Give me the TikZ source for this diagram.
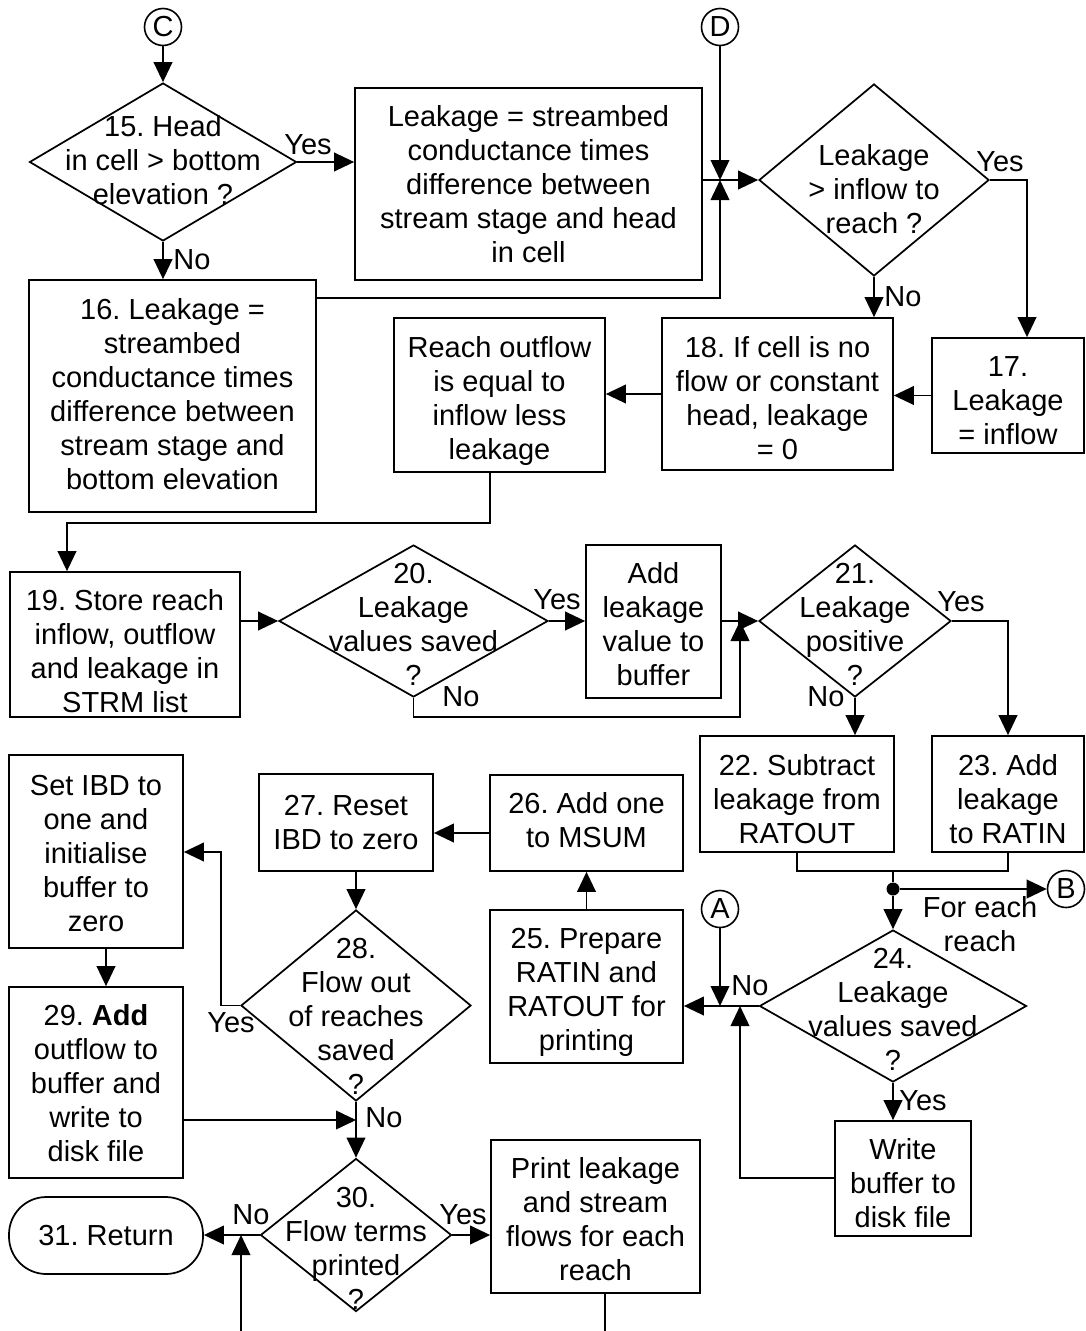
\documentclass[tikz,border=0pt]{standalone}
\usepackage{fontspec}
\setmainfont{Liberation Sans}
\usetikzlibrary{shapes.geometric,arrows.meta}
\newcommand\pxu{0.75pt}
\tikzset{
  every node/.style={font=\fontsize{21.75}{25.5}\selectfont\frenchspacing, inner sep=0pt},
  box/.style={draw, line width=1.3pt},
  dia/.style={draw, diamond, line width=1.3pt},
  txt/.style={align=center},
  lbl/.style={align=center},
  conn/.style={draw, circle, line width=1.2pt, minimum size=37*\pxu},
  dot/.style={circle, fill=black, minimum size=13*\pxu},
  ln/.style={line width=1.3pt},
  arr/.style={line width=1.3pt, -{Triangle[length=15pt,width=14pt]}}
}
\begin{document}
\begin{tikzpicture}[x=0.75pt,y=-0.75pt]
\path[use as bounding box, fill=white] (0,0) rectangle (1085,1331);

% ---------- row 1 ----------
\node[conn] (C) at (163,27) {C};
\node[dia, minimum width=267*\pxu, minimum height=158*\pxu] (d15) at (163,162) {};
\node[txt] (t15) at (163,164) {\strut 15. Head\\in cell > bottom\\elevation ?\strut};
\node[box, minimum width=347*\pxu, minimum height=192*\pxu] (b1) at (528.5,184) {};
\node[txt] (t1) at (528.5,188)
  {\strut Leakage = streambed\\conductance times\\difference between\\stream stage and head\\in cell\strut};
\node[conn] (D) at (720,27) {D};
\node[dia, minimum width=230*\pxu, minimum height=192*\pxu] (dL) at (874,180) {};
\node[txt] (tL) at (874,193) {\strut Leakage\\> inflow to\\reach ?\strut};

% ---------- row 2 ----------
\node[box, minimum width=287*\pxu, minimum height=232*\pxu] (b16) at (172.5,396) {};
\node[txt] (t16) at (172.5,398)
  {\strut 16. Leakage =\\streambed\\conductance times\\difference between\\stream stage and\\bottom elevation\strut};
\node[box, minimum width=211*\pxu, minimum height=154*\pxu] (bR) at (499.5,395) {};
\node[txt] (tR) at (499.5,402)
  {\strut Reach outflow\\is equal to\\inflow less\\leakage\strut};
\node[box, minimum width=231*\pxu, minimum height=152*\pxu] (b18) at (777.5,394) {};
\node[txt] (t18) at (777.5,402)
  {\strut 18. If cell is no\\flow or constant\\head, leakage\\= 0\strut};
\node[box, minimum width=152*\pxu, minimum height=115*\pxu] (b17) at (1008,395.5) {};
\node[txt] (t17) at (1008,404)
  {\strut 17.\\Leakage\\= inflow\strut};

% ---------- row 3 ----------
\node[box, minimum width=230*\pxu, minimum height=145*\pxu] (b19) at (125,644.5) {};
\node[txt] (t19) at (125,655)
  {\strut 19. Store reach\\inflow, outflow\\and leakage in\\STRM list\strut};
\node[dia, minimum width=269*\pxu, minimum height=152*\pxu] (d20) at (413.5,621) {};
\node[txt] (t20) at (413.5,628) {\strut 20.\\Leakage\\values saved\\?\strut};
\node[box, minimum width=135*\pxu, minimum height=153*\pxu] (bAdd) at (653.5,621.5) {};
\node[txt] (tAdd) at (653.5,628)
  {\strut Add\\leakage\\value to\\buffer\strut};
\node[dia, minimum width=192*\pxu, minimum height=152*\pxu] (d21) at (855,621) {};
\node[txt] (t21) at (855,628) {\strut 21.\\Leakage\\positive\\?\strut};
\node[box, minimum width=194*\pxu, minimum height=116*\pxu] (b22) at (797,794) {};
\node[txt] (t22) at (797,803)
  {\strut 22. Subtract\\leakage from\\RATOUT\strut};
\node[box, minimum width=152*\pxu, minimum height=116*\pxu] (b23) at (1008,794) {};
\node[txt] (t23) at (1008,803)
  {\strut 23. Add\\leakage\\to RATIN\strut};

% ---------- row 4 ----------
\node[box, minimum width=174*\pxu, minimum height=193*\pxu] (bSet) at (96,851.5) {};
\node[txt] (tSet) at (96,857)
  {\strut Set IBD to\\one and\\initialise\\buffer to\\zero\strut};
\node[box, minimum width=174*\pxu, minimum height=97*\pxu] (b27) at (346,822.5) {};
\node[txt] (t27) at (346,826)
  {\strut 27. Reset\\IBD to zero\strut};
\node[box, minimum width=193*\pxu, minimum height=96*\pxu] (b26) at (586.5,823) {};
\node[txt] (t26) at (586.5,824)
  {\strut 26. Add one\\to MSUM\strut};
\node[conn] (A) at (720,909) {A};
\node[conn] (B) at (1066,889) {B};
\node[dot] (dot) at (893,889) {};
\node[box, minimum width=193*\pxu, minimum height=153*\pxu] (b25) at (586.5,986.5) {};
\node[txt] (t25) at (586.5,993)
  {\strut 25. Prepare\\RATIN and\\RATOUT for\\printing\strut};
\node[dia, minimum width=267*\pxu, minimum height=152*\pxu] (d24) at (893,1006) {};
\node[txt] (t24) at (893,1013) {\strut 24.\\Leakage\\values saved\\?\strut};
\node[box, minimum width=136*\pxu, minimum height=115*\pxu] (bW) at (903,1178.5) {};
\node[txt] (tW) at (903,1187)
  {\strut Write\\buffer to\\disk file\strut};
\node[dia, minimum width=230*\pxu, minimum height=191*\pxu] (d28) at (356,1005.5) {};
\node[txt] (t28) at (356,1020) {\strut 28.\\Flow out\\of reaches\\saved\\?\strut};
\node[box, minimum width=174*\pxu, minimum height=191*\pxu] (b29) at (96,1082.5) {};
\node[txt] (t29) at (96,1087)
  {\strut 29. \textbf{Add}\\outflow to\\buffer and\\write to\\disk file\strut};

% ---------- row 5 ----------
\node[dia, minimum width=191*\pxu, minimum height=153*\pxu] (d30) at (356,1235) {};
\node[txt] (t30) at (356,1252) {\strut 30.\\Flow terms\\printed\\?\strut};
\node[box, rounded corners=28pt, minimum width=194*\pxu, minimum height=77*\pxu] (bRet) at (106,1235.5) {};
\node[txt] (tRet) at (106,1235.5) {31. Return};
\node[box, minimum width=209*\pxu, minimum height=153*\pxu] (bPrint) at (595.5,1216.5) {};
\node[txt] (tPrint) at (595.5,1223)
  {\strut Print leakage\\and stream\\flows for each\\reach\strut};

% ---------- connectors row 1/2 ----------
\draw[arr] (C) -- (d15.north);
\draw[arr] (d15.east) -- (b1.west |- d15.east);
\node[lbl] (y15) at (308,145) {Yes};
\draw[arr] (d15.south) -- (b16.north -| d15.south);
\node[lbl] (n15) at (192,260) {No};
\coordinate (J1) at (720,180);
\draw[arr] (b1.east |- J1) -- (dL.west);
\draw[arr] (D) -- (J1);
\coordinate (J1b) at (720,298);
\draw[arr] (b16.east |- J1b) -- (J1b) -- (J1);
\draw[arr] (dL.south) -- (dL.south |- b18.north);
\node[lbl] (nL) at (903,297) {No};
\coordinate (c17) at (1027,0);
\draw[arr] (dL.east) -| (c17 |- b17.north);
\node[lbl] (yL) at (1000,162) {Yes};
\draw[arr] (b17.west) -- (b18.east |- b17.west);
\draw[arr] (b18.west) -- (bR.east |- b18.west);
\coordinate (c1) at (490,523);
\coordinate (c2) at (67,523);
\draw[arr] (c1 |- bR.south) -- (c1) -- (c2) -- (c2 |- b19.north);

% ---------- connectors row 3 ----------
\draw[arr] (b19.east |- d20.west) -- (d20.west);
\draw[arr] (d20.east) -- (bAdd.west |- d20.east);
\node[lbl] (y20) at (557,600) {Yes};
\coordinate (J2) at (740,621);
\coordinate (c3) at (740,717);
\draw[arr] (d20.south) -- (d20.south |- c3) -- (c3) -- (J2);
\node[lbl] (n20) at (461,697) {No};
\draw[arr] (bAdd.east |- J2) -- (d21.west);
\draw[arr] (d21.east) -| (b23.north);
\node[lbl] (y21) at (961,602) {Yes};
\draw[arr] (d21.south) -- (d21.south |- b22.north);
\node[lbl] (n21) at (826,697) {No};
\coordinate (J3) at (893,871);
\draw[ln] (b22.south) -- (b22.south |- J3) -- (b23.south |- J3) -- (b23.south);
\draw[ln] (J3) -- (dot);
\draw[arr] (dot) -- (B);
\draw[arr] (dot) -- (d24.north);
\node[lbl] (fe) at (980,924) {For each\\reach};

% ---------- connectors row 4 ----------
\draw[arr] (d24.south) -- (bW.north -| d24.south);
\node[lbl] (y24) at (923,1101) {Yes};
\coordinate (J4) at (720,1006);
\coordinate (J5) at (740,1006);
\draw[arr] (d24.west) -- (b25.east |- d24.west);
\node[lbl] (n24) at (750,986) {No};
\draw[arr] (A) -- (J4);
\coordinate (c5) at (740,1178);
\draw[arr] (bW.west |- c5) -- (c5) -- (J5);
\draw[arr] (b25.north) -- (b26.south);
\coordinate (c6) at (0,833);
\draw[arr] (b26.west |- c6) -- (b27.east |- c6);
\draw[arr] (d28.north |- b27.south) -- (d28.north);
\coordinate (c7) at (221,852);
\draw[arr] (d28.west) -- (d28.west -| c7) -- (c7) -- (bSet.east |- c7);
\node[lbl] (y28) at (231,1023) {Yes};
\coordinate (c8) at (106,0);
\draw[arr] (c8 |- bSet.south) -- (c8 |- b29.north);
\coordinate (J6) at (356,1120);
\draw[arr] (b29.east |- J6) -- (J6);
\draw[arr] (d28.south) -- (d30.north);
\node[lbl] (n28) at (384,1118) {No};

% ---------- connectors row 5 ----------
\draw[arr] (d30.west) -- (bRet.east |- d30.west);
\node[lbl] (n30) at (251,1215) {No};
\coordinate (c9) at (241,1331);
\coordinate (J7) at (241,1235);
\draw[arr] (c9) -- (J7);
\draw[arr] (d30.east) -- (bPrint.west |- d30.east);
\node[lbl] (y30) at (463,1215) {Yes};
\coordinate (c10) at (605,1331);
\draw[ln] (c10 |- bPrint.south) -- (c10);
\end{tikzpicture}
\end{document}
